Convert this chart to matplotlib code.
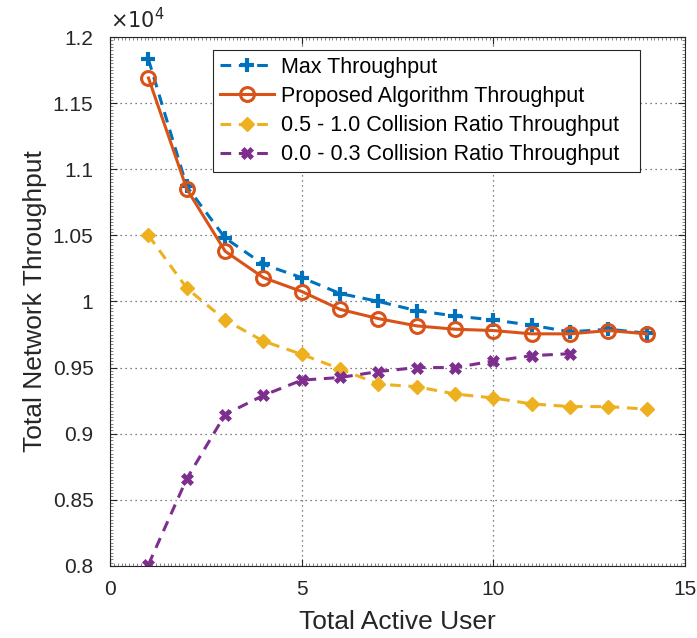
import matplotlib
matplotlib.use("Agg")
import matplotlib.pyplot as plt
from matplotlib.ticker import FixedLocator, FixedFormatter, MultipleLocator

plt.rcParams['font.family'] = ['Liberation Sans', 'DejaVu Sans']

users = [1, 2, 3, 4, 5, 6, 7, 8, 9, 10, 11, 12, 13, 14]
max_tp = [11830, 10870, 10480, 10280, 10180, 10060, 10000, 9930, 9890, 9860, 9820, 9770, 9790, 9760]
proposed_tp = [11690, 10850, 10380, 10180, 10075, 9940, 9870, 9815, 9790, 9780, 9755, 9755, 9780, 9755]
coll_high = [10500, 10100, 9860, 9700, 9600, 9490, 9375, 9355, 9300, 9270, 9225, 9205, 9205, 9185]
users_low = [1, 2, 3, 4, 5, 6, 7, 8, 9, 10, 11, 12]
coll_low = [8010, 8660, 9145, 9290, 9405, 9425, 9470, 9500, 9500, 9550, 9590, 9605]

labels = ["Max Throughput", "Proposed Algorithm Throughput",
          "0.5 - 1.0 Collision Ratio Throughput", "0.0 - 0.3 Collision Ratio Throughput"]
ytick_vals = [8000, 8500, 9000, 9500, 10000, 10500, 11000, 11500, 12000]
ytick_labels = ["0.8", "0.85", "0.9", "0.95", "1", "1.05", "1.1", "1.15", "1.2"]
xtick_vals = [0, 5, 10, 15]

blue = "#0072BD"
orange = "#D95319"
yellow = "#EDB120"
purple = "#7E2F8E"
dark = '#262626'

fig = plt.figure(figsize=(6.97, 6.38), dpi=100)
ax = fig.add_axes([0.158, 0.113, 0.825, 0.829])

ax.plot(users, max_tp, linestyle=(0, (3.5, 2.5)), color=blue, lw=2.2, marker='+',
        markersize=10, markeredgewidth=3, label=labels[0])
ax.plot(users, proposed_tp, linestyle='-', color=orange, lw=2.2, marker='o',
        markersize=10, markeredgewidth=2.2, markerfacecolor='none', label=labels[1])
ax.plot(users, coll_high, linestyle=(0, (3.5, 2.5)), color=yellow, lw=2.2, marker='D',
        markersize=7, label=labels[2])
ax.plot(users_low, coll_low, linestyle=(0, (3.5, 2.5)), color=purple, lw=2.2, marker='X',
        markersize=8, markeredgewidth=0.5, label=labels[3])

ax.set_xlim(0, 15)
ax.set_ylim(8000, 12000)
ax.xaxis.set_major_locator(FixedLocator(xtick_vals))
ax.yaxis.set_major_locator(FixedLocator(ytick_vals))
ax.yaxis.set_major_formatter(FixedFormatter(ytick_labels))
ax.xaxis.set_minor_locator(MultipleLocator(0.1))
ax.yaxis.set_minor_locator(MultipleLocator(25))
ax.grid(True, which='major', linestyle=(0, (1, 3)), color='#555555', lw=0.9)
ax.tick_params(which='major', direction='in', top=True, right=True, labelsize=15,
               length=5, width=0.8, colors=dark, pad=12)
ax.tick_params(axis='x', which='major', pad=10)
ax.tick_params(which='minor', direction='in', top=True, right=True, length=2,
               width=0.5, colors='#555555')
for s in ax.spines.values():
    s.set_color(dark)
    s.set_linewidth(0.8)

ax.set_xlabel("Total Active User", fontsize=19, color=dark, labelpad=8)
ax.set_ylabel("Total Network Throughput", fontsize=19, color=dark, labelpad=4)
ax.text(0.0, 1.01, r"$\times10^{4}$", transform=ax.transAxes, fontsize=15,
        ha='left', va='bottom', color=dark)

leg = ax.legend(loc='upper left', bbox_to_anchor=(0.179, 0.5, 0.742, 0.475), mode='expand',
                fontsize=15.5,
                frameon=True, fancybox=False, edgecolor=dark, framealpha=1,
                handlelength=2.55, borderpad=0.3, labelspacing=0.38, handletextpad=0.3,
                borderaxespad=0)
leg.get_frame().set_linewidth(0.8)

fig.savefig("out.png", dpi=100)
